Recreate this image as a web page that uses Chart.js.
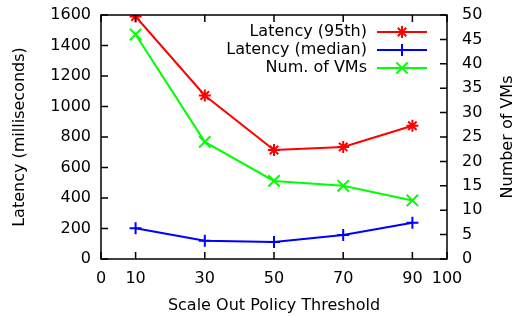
<!DOCTYPE html>
<html>
<head>
<meta charset="utf-8">
<script src="https://cdn.jsdelivr.net/npm/chart.js@4.4.1/dist/chart.umd.min.js"></script>
<style>
  html, body { margin: 0; padding: 0; background: #fff; }
  #wrap { width: 522px; height: 317px; }
</style>
</head>
<body>
<div id="wrap"><canvas id="chart"></canvas></div>
<script>
// Data
const thresholds = [10, 30, 50, 70, 90];
const latency95 = [1590, 1072, 715, 735, 874];
const latencyMedian = [202, 120, 111, 158, 238];
const numVMs = [46, 24, 16, 15, 12];
const xTicks = [0, 10, 30, 50, 70, 90, 100];

const FONT = { family: 'DejaVu Sans', size: 16 };

function toPoints(ys) {
    return thresholds.map((x, i) => ({ x: x, y: ys[i] }));
}

// gnuplot-like box with inward tick marks, legend and right axis title
const framePlugin = {
    id: 'frame',
    afterDraw(chart) {
        const ctx = chart.ctx;
        const a = chart.chartArea;
        const sx = chart.scales.x, sy = chart.scales.y, sy2 = chart.scales.y2;
        const tl = 7;
        ctx.save();
        ctx.strokeStyle = '#000';
        ctx.lineWidth = 1.5;
        ctx.strokeRect(a.left, a.top, a.right - a.left, a.bottom - a.top);
        ctx.beginPath();
        sx.ticks.forEach(t => {
            const px = sx.getPixelForValue(t.value);
            ctx.moveTo(px, a.bottom); ctx.lineTo(px, a.bottom - tl);
            ctx.moveTo(px, a.top); ctx.lineTo(px, a.top + tl);
        });
        sy.ticks.forEach(t => {
            const py = sy.getPixelForValue(t.value);
            ctx.moveTo(a.left, py); ctx.lineTo(a.left + tl, py);
        });
        sy2.ticks.forEach(t => {
            const py = sy2.getPixelForValue(t.value);
            ctx.moveTo(a.right, py); ctx.lineTo(a.right - tl, py);
        });
        ctx.stroke();

        ctx.font = FONT.size + 'px ' + FONT.family;
        ctx.fillStyle = '#000';

        // right axis title, reading bottom to top
        ctx.save();
        ctx.translate(508, (a.top + a.bottom) / 2);
        ctx.rotate(-Math.PI / 2);
        ctx.textAlign = 'center';
        ctx.textBaseline = 'middle';
        ctx.fillText('Number of VMs', 0, 0);
        ctx.restore();

        // legend
        ctx.textAlign = 'right';
        ctx.textBaseline = 'middle';
        chart.data.datasets.forEach((ds, i) => {
            const y = 32 + i * 18;
            ctx.fillStyle = '#000';
            ctx.fillText(ds.label, 367, y);
            ctx.strokeStyle = ds.borderColor;
            ctx.lineWidth = 2;
            ctx.beginPath();
            ctx.moveTo(377, y); ctx.lineTo(427, y);
            ctx.stroke();
            Chart.helpers.drawPoint(ctx, {
                pointStyle: ds.pointStyle,
                radius: ds.pointRadius,
                borderWidth: 2
            }, 402, y);
        });
        ctx.restore();
    }
};

function noPad(s) {
    s.paddingTop = 0;
    s.paddingBottom = 0;
}

new Chart(document.getElementById('chart'), {
    type: 'line',
    data: {
        datasets: [
            {
                label: 'Latency (95th)',
                data: toPoints(latency95),
                yAxisID: 'y',
                borderColor: '#ff0000',
                backgroundColor: '#ff0000',
                pointStyle: 'star',
                pointRadius: 6,
                pointBorderWidth: 2,
                borderWidth: 2
            },
            {
                label: 'Latency (median)',
                data: toPoints(latencyMedian),
                yAxisID: 'y',
                borderColor: '#0000ff',
                backgroundColor: '#0000ff',
                pointStyle: 'cross',
                pointRadius: 6,
                pointBorderWidth: 2,
                borderWidth: 2
            },
            {
                label: 'Num. of VMs',
                data: toPoints(numVMs),
                yAxisID: 'y2',
                borderColor: '#00ff00',
                backgroundColor: '#00ff00',
                pointStyle: 'crossRot',
                pointRadius: 8,
                pointBorderWidth: 2,
                borderWidth: 2
            }
        ]
    },
    options: {
        responsive: true,
        maintainAspectRatio: false,
        animation: false,
        layout: { padding: { top: 15, left: 0, right: 0, bottom: 0 } },
        plugins: { legend: { display: false }, tooltip: { enabled: false } },
        scales: {
            x: {
                type: 'linear',
                min: 0, max: 100,
                afterBuildTicks: s => { s.ticks = xTicks.map(v => ({ value: v })); },
                afterFit: s => { s.height = 58; s.paddingLeft = 0; s.paddingRight = 0; },
                grid: { display: false, drawTicks: false },
                border: { display: false },
                ticks: { color: '#000', font: FONT, padding: 10, maxRotation: 0, autoSkip: false },
                title: { display: true, text: 'Scale Out Policy Threshold', color: '#000', font: FONT, padding: { bottom: 2 } }
            },
            y: {
                position: 'left',
                min: 0, max: 1600,
                afterFit: s => { s.width = 101; noPad(s); },
                grid: { display: false, drawTicks: false },
                border: { display: false },
                ticks: { stepSize: 200, color: '#000', font: FONT, padding: 10, callback: v => String(v) },
                title: { display: true, text: 'Latency (milliseconds)', color: '#000', font: FONT, padding: { top: 10 } }
            },
            y2: {
                position: 'right',
                min: 0, max: 50,
                afterFit: s => { s.width = 75; noPad(s); },
                grid: { display: false, drawTicks: false },
                border: { display: false },
                ticks: { stepSize: 5, color: '#000', font: FONT, padding: 15, callback: v => String(v) },
                title: { display: false }
            }
        }
    },
    plugins: [framePlugin]
});
</script>
</body>
</html>
